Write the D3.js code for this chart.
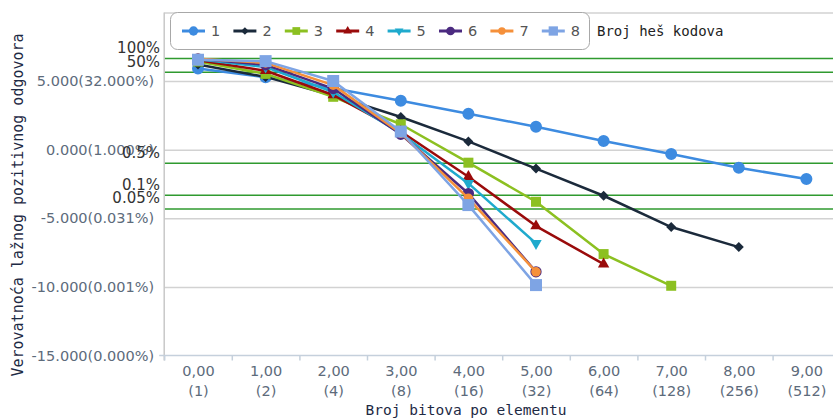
<!DOCTYPE html>
<html>
<head>
<meta charset="utf-8">
<script src="https://cdn.jsdelivr.net/npm/d3@7"></script>
<style>
  html, body { margin: 0; padding: 0; background: #ffffff; }
  svg { display: block; }
</style>
</head>
<body>
<svg id="chart" width="833" height="419"></svg>
<script>
// log2 of bits per element (x axis) and its labels
const bitsLog2 = [0, 1, 2, 3, 4, 5, 6, 7, 8, 9];
const xTickLabels = ["0,00", "1,00", "2,00", "3,00", "4,00", "5,00", "6,00", "7,00", "8,00", "9,00"];
const xTickSubLabels = ["(1)", "(2)", "(4)", "(8)", "(16)", "(32)", "(64)", "(128)", "(256)", "(512)"];

// y axis: log2 of false positive rate in percent
const yTickValues = [-15, -10, -5, 0, 5];
const yTickLabels = ["-15.000(0.000%)", "-10.000(0.001%)", "-5.000(0.031%)", "0.000(1.000%)", "5.000(32.000%)"];
const yGridValues = [-10, -5, 0, 5, 10];

// number of hash functions (one series each)
const hashCounts = ["1", "2", "3", "4", "5", "6", "7", "8"];

// log2(false positive %) per number of hash functions
const fpHash1 = [5.92, 5.28, 4.48, 3.56, 2.62, 1.67, 0.63, -0.32, -1.32, -2.14];
const fpHash2 = [6.20, 5.30, 3.95, 2.38, 0.60, -1.38, -3.36, -5.64, -7.10];
const fpHash3 = [6.42, 5.52, 3.85, 1.85, -0.95, -3.80, -7.61, -9.92];
const fpHash4 = [6.52, 5.75, 3.98, 1.32, -1.97, -5.57, -8.34];
const fpHash5 = [6.58, 6.02, 4.20, 1.18, -2.46, -6.83];
const fpHash6 = [6.62, 6.18, 4.45, 1.12, -3.20, -8.90];
const fpHash7 = [6.63, 6.32, 4.70, 1.20, -3.55, -8.90];
const fpHash8 = [6.55, 6.45, 5.00, 1.32, -4.04, -9.87];

// reference false positive rates drawn as horizontal lines
const referencePercents = [100, 50, 0.5, 0.1, 0.05];
const referenceLabels = ["100%", "50%", "0.5%", "0.1%", "0.05%"];

const seriesValues = [fpHash1, fpHash2, fpHash3, fpHash4, fpHash5, fpHash6, fpHash7, fpHash8];

// visual styles per series
const seriesStyle = [
  { color: "#3d8be0", shape: "circle",   size: 113 },
  { color: "#1b2a3b", shape: "diamond",  size: 50 },
  { color: "#8cc021", shape: "square",   size: 100 },
  { color: "#9a0b0b", shape: "triUp",    size: 56 },
  { color: "#1faacd", shape: "triDown",  size: 56 },
  { color: "#4b2a80", shape: "circle",   size: 100 },
  { color: "#f5903a", shape: "circle",   size: 72 },
  { color: "#7ea4e4", shape: "square",   size: 144 }
];

const svg = d3.select("#chart");
const W = 833, H = 419;

const x = d3.scaleLinear().domain([-0.5, 9.5]).range([164.2, 840.2]);
const y = d3.scaleLinear().domain([-15, 10]).range([355.5, 12.4]);

const labelFont = "'DejaVu Sans', Verdana, sans-serif";
const monoFont = "'DejaVu Sans Mono', monospace";

// horizontal gridlines
const grid = svg.append("g")
  .attr("transform", `translate(${x.range()[0]},0)`)
  .call(d3.axisLeft(y).tickValues(yGridValues).tickSize(-(W - x.range()[0])).tickFormat(""));
grid.select(".domain").remove();
grid.selectAll(".tick line").attr("stroke", "#d2d2d2").attr("stroke-width", 1.5);

// reference lines (green)
const refG = svg.append("g");
referencePercents.forEach((p, i) => {
  const yy = y(Math.log2(p));
  refG.append("line")
    .attr("x1", x.range()[0]).attr("x2", W)
    .attr("y1", yy).attr("y2", yy)
    .attr("stroke", "#2f9a2f").attr("stroke-width", 1.5);
});

// left axis line and labels
svg.append("line")
  .attr("x1", x.range()[0]).attr("x2", x.range()[0])
  .attr("y1", y(10)).attr("y2", y(-15) + 5)
  .attr("stroke", "#c8c8c8").attr("stroke-width", 1.5);

const yAxis = svg.append("g")
  .attr("transform", `translate(${x.range()[0]},0)`)
  .call(d3.axisLeft(y).tickValues(yTickValues).tickSize(0).tickPadding(10)
    .tickFormat((d, i) => yTickLabels[i]));
yAxis.select(".domain").remove();
yAxis.selectAll("text")
  .attr("font-family", labelFont).attr("font-size", 14.5)
  .attr("fill", "#5d6b7b");

// reference labels
referencePercents.forEach((p, i) => {
  svg.append("text")
    .attr("x", 160).attr("y", y(Math.log2(p)) - 5.5)
    .attr("text-anchor", "end")
    .attr("font-family", labelFont).attr("font-size", 15)
    .attr("fill", "#333333")
    .text(referenceLabels[i]);
});

// bottom axis: tick marks on category boundaries
const boundaries = d3.range(-0.5, 10, 1);
const xTicks = svg.append("g")
  .attr("transform", `translate(0,${y(-15)})`)
  .call(d3.axisBottom(x).tickValues(boundaries).tickSize(5).tickFormat(""));
xTicks.select(".domain").attr("stroke", "#c5d0dc").attr("stroke-width", 1.5)
  .attr("d", `M${x.range()[0] - 5},0H${x.range()[1]}`);
xTicks.selectAll(".tick line").attr("stroke", "#c5d0dc").attr("stroke-width", 1.5);

// bottom axis labels (two lines each)
const xLabels = svg.append("g")
  .attr("transform", `translate(0,${y(-15)})`)
  .call(d3.axisBottom(x).tickValues(bitsLog2).tickSize(0).tickFormat(""));
xLabels.select(".domain").remove();
xLabels.selectAll(".tick").each(function (d, i) {
  const t = d3.select(this).append("text")
    .attr("fill", "#5d6b7b")
    .attr("font-family", labelFont).attr("font-size", 14.5)
    .attr("text-anchor", "middle");
  t.append("tspan").attr("x", 0).attr("y", 20).text(xTickLabels[i]);
  t.append("tspan").attr("x", 0).attr("y", 40).text(xTickSubLabels[i]);
});

// axis titles
svg.append("text")
  .attr("x", 466).attr("y", 410)
  .attr("text-anchor", "middle").attr("dominant-baseline", "central")
  .attr("font-family", monoFont).attr("font-size", 14.5)
  .attr("fill", "#1e2a44")
  .text("Broj bitova po elementu");

svg.append("text")
  .attr("transform", "translate(18,205) rotate(-90)")
  .attr("text-anchor", "middle").attr("dominant-baseline", "central")
  .attr("font-family", monoFont).attr("font-size", 15)
  .attr("fill", "#1e2a44")
  .text("Verovatnoća lažnog pozitivnog odgovora");

// marker generator
function markerPath(shape, size) {
  if (shape === "circle") return d3.symbol(d3.symbolCircle, size)();
  if (shape === "square") return d3.symbol(d3.symbolSquare, size)();
  if (shape === "diamond") return d3.symbol(d3.symbolSquare, size)();
  return d3.symbol(d3.symbolTriangle, size)();
}
function markerRotation(shape) {
  if (shape === "diamond") return 45;
  if (shape === "triDown") return 180;
  return 0;
}

// series lines and markers
const line = d3.line().x((d, i) => x(bitsLog2[i])).y(d => y(d));
seriesValues.forEach((vals, s) => {
  const st = seriesStyle[s];
  const g = svg.append("g");
  g.append("path")
    .datum(vals)
    .attr("d", line)
    .attr("fill", "none")
    .attr("stroke", st.color)
    .attr("stroke-width", 2.5)
    .attr("stroke-linejoin", "round");
  g.selectAll("path.m")
    .data(vals)
    .join("path")
    .attr("class", "m")
    .attr("d", markerPath(st.shape, st.size))
    .attr("transform", (d, i) => `translate(${x(bitsLog2[i])},${y(d)}) rotate(${markerRotation(st.shape)})`)
    .attr("fill", st.color);
});

// legend
const legend = svg.append("g");
legend.append("rect")
  .attr("x", 170.5).attr("y", 12.5)
  .attr("width", 419).attr("height", 37)
  .attr("rx", 7).attr("ry", 7)
  .attr("fill", "#ffffff").attr("stroke", "#a8a8a8").attr("stroke-width", 1);

hashCounts.forEach((name, s) => {
  const st = seriesStyle[s];
  const lx = 182 + 51.4 * s;
  const ly = 31;
  legend.append("line")
    .attr("x1", lx).attr("x2", lx + 23)
    .attr("y1", ly).attr("y2", ly)
    .attr("stroke", st.color).attr("stroke-width", 3);
  legend.append("path")
    .attr("d", markerPath(st.shape, st.size * 0.6))
    .attr("transform", `translate(${lx + 11.5},${ly}) rotate(${markerRotation(st.shape)})`)
    .attr("fill", st.color);
  legend.append("text")
    .attr("x", lx + 29).attr("y", 36)
    .attr("font-family", labelFont).attr("font-size", 14.5)
    .attr("fill", "#555555")
    .text(name);
});

svg.append("text")
  .attr("x", 597).attr("y", 36)
  .attr("font-family", monoFont).attr("font-size", 14)
  .attr("fill", "#222222")
  .text("Broj heš kodova");
</script>
</body>
</html>
